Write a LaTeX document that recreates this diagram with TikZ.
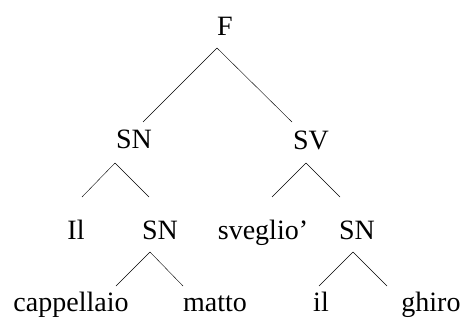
\documentclass[tikz,border=0pt]{standalone}
\usepackage{fontspec}
\setmainfont{Liberation Serif}

\begin{document}
\begin{tikzpicture}[x=1pt,y=-1pt]
\tikzstyle{word}=[anchor=base, inner sep=0pt, font=\fontsize{28}{32}\selectfont]
\useasboundingbox (0,0) rectangle (462,324);

\node[word] (F) at (225,35) {F};
\node[word] (SN) at (134,148) {SN};
\node[word] (SV) at (311,149) {SV};
\node[word] (Il) at (76,239) {Il};
\node[word] (SNa) at (160,239) {SN};
\node[word] (sveglio) at (263,239) {sveglio’};
\node[word] (SNb) at (357,239) {SN};
\node[word] (cappellaio) at (71,311) {cappellaio};
\node[word] (matto) at (215,311) {matto};
\node[word] (il) at (321,311) {il};
\node[word] (ghiro) at (431,311) {ghiro};

% tips of the branches
\coordinate (F-a) at (217,48);
\coordinate (SN-a) at (115,163);
\coordinate (SV-a) at (306,163);
\coordinate (SNa-a) at (150,252);
\coordinate (SNb-a) at (353,252);
\coordinate (SN-f) at (143,122);
\coordinate (SV-f) at (292,122);
\coordinate (Il-f) at (82,197);
\coordinate (SNa-f) at (149,197);
\coordinate (sveglio-f) at (272,197);
\coordinate (SNb-f) at (340,197);
\coordinate (cappellaio-f) at (116,286);
\coordinate (matto-f) at (183,286);
\coordinate (il-f) at (319,286);
\coordinate (ghiro-f) at (387,286);

\path
(F-a) edge (SN-f)
    edge (SV-f)
(SN-a) edge (Il-f)
    edge (SNa-f)
(SV-a) edge (sveglio-f)
    edge (SNb-f)
(SNa-a) edge (cappellaio-f)
    edge (matto-f)
(SNb-a) edge (il-f)
    edge (ghiro-f);

\end{tikzpicture}
\end{document}
